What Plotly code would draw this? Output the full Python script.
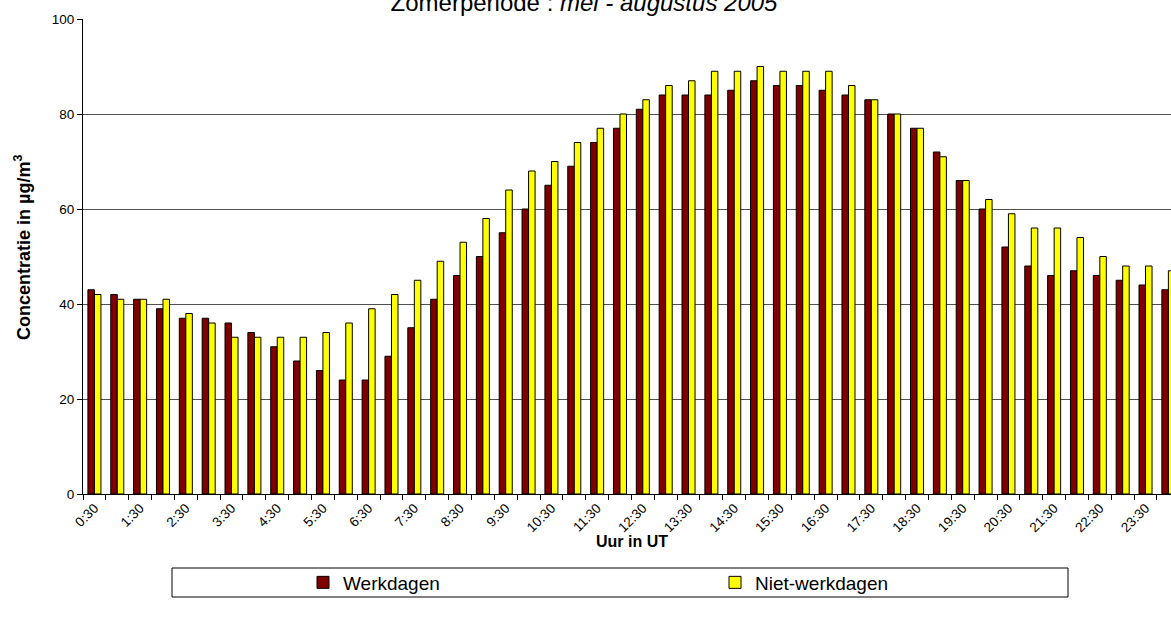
import plotly.graph_objects as go

# Half-hour categories (48), labels shown every hour
categories = ["0:30", "1:00", "1:30", "2:00", "2:30", "3:00", "3:30", "4:00",
              "4:30", "5:00", "5:30", "6:00", "6:30", "7:00", "7:30", "8:00",
              "8:30", "9:00", "9:30", "10:00", "10:30", "11:00", "11:30", "12:00",
              "12:30", "13:00", "13:30", "14:00", "14:30", "15:00", "15:30", "16:00",
              "16:30", "17:00", "17:30", "18:00", "18:30", "19:00", "19:30", "20:00",
              "20:30", "21:00", "21:30", "22:00", "22:30", "23:00", "23:30", "24:00"]

werkdagen = [43, 42, 41, 39, 37, 37, 36, 34, 31, 28, 26, 24,
             24, 29, 35, 41, 46, 50, 55, 60, 65, 69, 74, 77,
             81, 84, 84, 84, 85, 87, 86, 86, 85, 84, 83, 80,
             77, 72, 66, 60, 52, 48, 46, 47, 46, 45, 44, 43]

niet_werkdagen = [42, 41, 41, 41, 38, 36, 33, 33, 33, 33, 34, 36,
                  39, 42, 45, 49, 53, 58, 64, 68, 70, 74, 77, 80,
                  83, 86, 87, 89, 89, 90, 89, 89, 89, 86, 83, 80,
                  77, 71, 66, 62, 59, 56, 56, 54, 50, 48, 48, 47]

shown_labels = ["0:30", "1:30", "2:30", "3:30", "4:30", "5:30", "6:30", "7:30",
                "8:30", "9:30", "10:30", "11:30", "12:30", "13:30", "14:30", "15:30",
                "16:30", "17:30", "18:30", "19:30", "20:30", "21:30", "22:30", "23:30"]

y_ticks = [0, 20, 40, 60, 80, 100]

W, H = 1171, 623
L, T, B = 83, 19, 129
FONT = "Arial, Liberation Sans, sans-serif"

fig = go.Figure()
fig.add_trace(go.Bar(x=categories, y=werkdagen, name="Werkdagen",
                     marker=dict(color="#800000", line=dict(color="#000000", width=1))))
fig.add_trace(go.Bar(x=categories, y=niet_werkdagen, name="Niet-werkdagen",
                     marker=dict(color="#FFFF00", line=dict(color="#000000", width=1))))

cat_w = 22.85
span = (W - L) / cat_w
ticktext = [c if c in shown_labels else "" for c in categories]

def px_to_paper_x(px):
    return (px - L) / (W - L)

def px_to_paper_y(py):
    return (H - B - py) / (H - B - T)

fig.update_layout(
    width=W, height=H,
    margin=dict(l=L, r=0, t=T, b=B, pad=0, autoexpand=False),
    paper_bgcolor="white", plot_bgcolor="white",
    font=dict(family=FONT, color="#000000"),
    barmode="group", bargap=0.43, bargroupgap=0.0,
    title=dict(text="Zomerperiode : <i>mei - augustus 2005</i>",
               font=dict(size=24, family=FONT, color="#000000"),
               x=584 / W, xref="container", xanchor="center",
               y=1 - 2.5 / H, yref="container", yanchor="middle"),
    xaxis=dict(type="category", categoryorder="array", categoryarray=categories,
               range=[-0.5, -0.5 + span],
               tickmode="array", tickvals=categories, ticktext=ticktext,
               tickson="boundaries", ticks="outside", ticklen=5, tickcolor="#000000",
               tickangle=-45, tickfont=dict(size=13.5, family=FONT),
               showline=True, linecolor="#000000", linewidth=1,
               showgrid=False, zeroline=False),
    yaxis=dict(range=[0, 100], tickmode="array", tickvals=y_ticks,
               ticks="outside", ticklen=5, tickcolor="#000000",
               tickfont=dict(size=13.5, family=FONT),
               showline=True, linecolor="#000000", linewidth=1,
               showgrid=True, gridcolor="#505050", gridwidth=1, zeroline=False),
    showlegend=True,
    legend=dict(orientation="h", xref="container", yref="container",
                x=303 / W, xanchor="left", y=1 - 582.5 / H, yanchor="middle",
                entrywidth=367, entrywidthmode="pixels",
                bgcolor="rgba(0,0,0,0)", borderwidth=0,
                font=dict(size=19, family=FONT), traceorder="normal"),
)

# y axis title
fig.add_annotation(text="<b>Concentratie in µg/m<sup>3</sup></b>", xref="paper", yref="paper",
                   x=px_to_paper_x(23), y=px_to_paper_y(248), textangle=-90,
                   xanchor="center", yanchor="middle", showarrow=False,
                   font=dict(size=18, family=FONT, color="#000000"))

# x axis title placed at the centre of the full (partly clipped) plot width
fig.add_annotation(text="<b>Uur in UT</b>", xref="paper", yref="paper",
                   x=px_to_paper_x(632), y=px_to_paper_y(541),
                   xanchor="center", yanchor="middle", showarrow=False,
                   font=dict(size=16, family=FONT, color="#000000"))

# legend frame
fig.add_shape(type="rect", xref="paper", yref="paper",
              x0=px_to_paper_x(172), x1=px_to_paper_x(1068),
              y0=px_to_paper_y(597), y1=px_to_paper_y(568),
              line=dict(color="#000000", width=1), fillcolor="rgba(0,0,0,0)",
              layer="above")

fig.write_html("out.html", config={"displayModeBar": False},
               post_script="document.body.style.margin='0';")
